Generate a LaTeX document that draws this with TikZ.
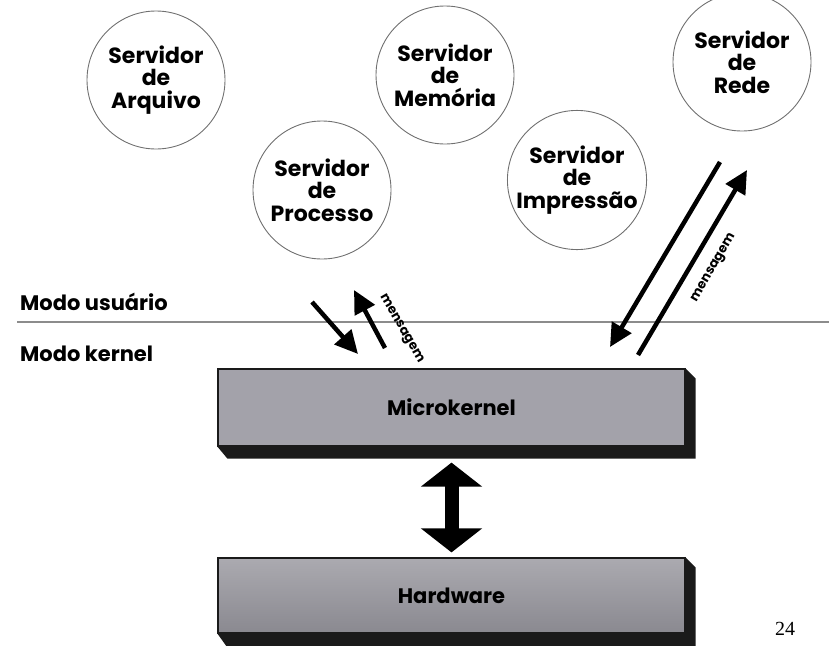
\documentclass[tikz,border=0pt]{standalone}
\usepackage{fontspec}
\setmainfont{Poppins}
\newfontfamily\pagefont{Liberation Serif}
\usetikzlibrary{arrows.meta,backgrounds,calc}

\definecolor{panelgray}{HTML}{A3A2AA}
\definecolor{panelgraylo}{HTML}{8A8990}
\definecolor{panelgrayhi}{HTML}{ABAAB0}
\definecolor{edgedark}{HTML}{1A1A1A}
\definecolor{ringgray}{HTML}{707070}
\definecolor{rulegray}{HTML}{8C8C8C}

\tikzset{
  server/.style={circle, draw=ringgray, line width=0.9pt, minimum size=138pt,
    inner sep=0pt, align=center, font=\bfseries\fontsize{22}{22.5}\selectfont},
  layer/.style={draw=edgedark, line width=1.2pt, minimum width=467pt,
    inner sep=0pt, font=\bfseries\fontsize{21}{22}\selectfont},
  modelabel/.style={anchor=base west, inner sep=0pt,
    font=\bfseries\fontsize{21}{22}\selectfont},
  msg/.style={line width=4.5pt, -{Triangle[length=23pt,width=22pt]}},
  msglabel/.style={inner sep=0pt, font=\bfseries\fontsize{13}{13}\selectfont},
  extrude/.style={fill=edgedark}
}

\begin{document}
\begin{tikzpicture}[x=1pt,y=-1pt]
\useasboundingbox (0,0) rectangle (829,645);

% user-space servers
\node[server] (arq)  at (156,80)  {Servidor\\de\\Arquivo};
\node[server] (mem)  at (445,75)  {Servidor\\de\\Memória};
\node[server] (rede) at (742,62)  {Servidor\\de\\Rede};
\node[server] (proc) at (322,190) {Servidor\\de\\Processo};
\node[server] (impr) at (577,180) {Servidor\\de\\Impressão};

% user / kernel boundary
\node[modelabel] (usr) at (20,310) {Modo usuário};
\node[modelabel] (krn) at (20,361) {Modo kernel};
\coordinate (ruleL) at (17,322);
\coordinate (ruleR) at (829,322);
\draw[rulegray, line width=1.6pt] (ruleL) -- (ruleR);

% kernel layers
\node[layer, fill=panelgray, minimum height=77pt] (mk) at (451.5,407.5) {Microkernel};
\node[layer, top color=panelgrayhi, bottom color=panelgraylo, minimum height=75pt] (hw) at (451.5,595.5) {Hardware};

\begin{scope}[on background layer]
  \fill[extrude] (mk.north east) -- ++(10,10) -- ($(mk.south east)+(10,12)$)
     -- ($(mk.south west)+(10,12)$) -- (mk.south west) -- cycle;
  \fill[extrude] (hw.north east) -- ++(10,10) -- ($(hw.south east)+(10,14)$)
     -- ($(hw.south west)+(10,14)$) -- (hw.south west) -- cycle;
\end{scope}

% kernel <-> hardware
\draw[line width=14pt, {Triangle[length=24pt,width=60pt]}-{Triangle[length=24pt,width=60pt]}]
  ([yshift=-16pt]mk.south) -- ([yshift=5pt]hw.north);

% message exchange with the process server
\coordinate (pA) at (312,302);
\coordinate (pB) at (358,354);
\coordinate (pC) at (385,348);
\coordinate (pD) at (354,290);
\draw[msg] (pA) -- (pB);
\draw[msg] (pC) -- (pD);
\node[msglabel, rotate=-60] (m1) at (401,329) {mensagem};

% message exchange with the network server
\coordinate (rA) at (720,162);
\coordinate (rB) at (610,347);
\coordinate (rC) at (638,355);
\coordinate (rD) at (747,170);
\draw[msg] (rA) -- (rB);
\draw[msg] (rC) -- (rD);
\node[msglabel, rotate=60] (m2) at (714,268) {mensagem};

% page number
\node[anchor=base, inner sep=0pt, font=\pagefont\fontsize{20}{20}\selectfont] (pg) at (785,635) {24};
\end{tikzpicture}
\end{document}
